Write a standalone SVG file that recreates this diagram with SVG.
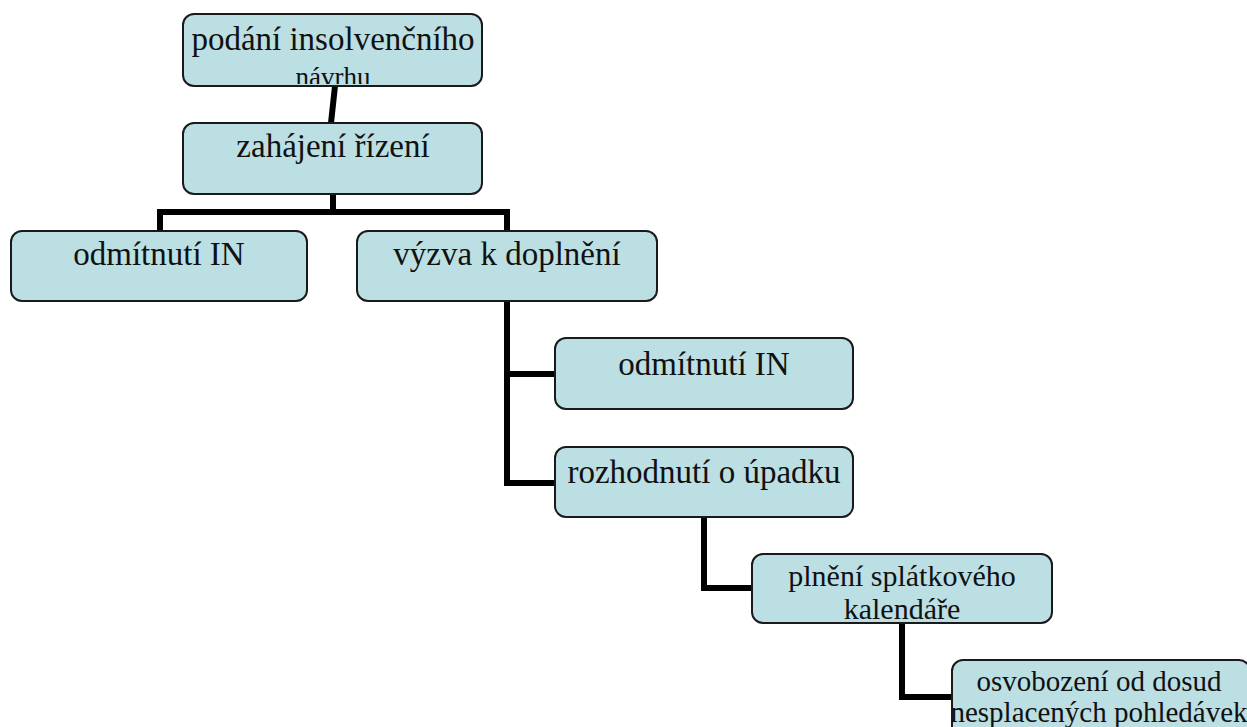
<svg xmlns="http://www.w3.org/2000/svg" width="1247" height="727" viewBox="0 0 1247 727">
  <style>
    .box { fill: #BBDFE3; stroke: #1a1a1a; stroke-width: 2; }
    .lbl { font-family: "Liberation Serif", "Times New Roman", serif; fill: #111; text-anchor: middle; }
    .big { font-size: 33px; }
    .mid { font-size: 30px; }
    .sm { font-size: 29px; }
    .tiny { font-size: 27px; }
    .link { fill: none; stroke: #000; stroke-width: 6; stroke-linejoin: miter; stroke-linecap: butt; }
  </style>
  <defs>
    <clipPath id="clip-podani">
      <rect x="184" y="15" width="297" height="69" rx="10"/>
    </clipPath>
  </defs>
  <rect width="1247" height="727" fill="#fff"/>

  <g id="connectors">
    <path class="link" d="M335,86 L331,123"/>
    <path class="link" d="M333,194 V212 M160,231 V212 H507 V231"/>
    <path class="link" d="M507,300 V483 H555 M507,374 H555"/>
    <path class="link" d="M704,517 V588 H752"/>
    <path class="link" d="M902,623 V697 H952"/>
  </g>

  <g id="n-podani">
    <rect class="box" x="183" y="14" width="299" height="72" rx="11"/>
    <g clip-path="url(#clip-podani)">
      <text class="lbl big" x="333" y="50">podání insolvenčního</text>
      <text class="lbl tiny" x="333" y="86">návrhu</text>
    </g>
  </g>

  <g id="n-zahajeni">
    <rect class="box" x="183" y="123" width="299" height="71" rx="11"/>
    <text class="lbl big" x="333" y="157">zahájení řízení</text>
  </g>

  <g id="n-odmitnuti-1">
    <rect class="box" x="11" y="231" width="296" height="70" rx="11"/>
    <text class="lbl big" x="159" y="265">odmítnutí IN</text>
  </g>

  <g id="n-vyzva">
    <rect class="box" x="357" y="231" width="300" height="70" rx="11"/>
    <text class="lbl big" x="507" y="265">výzva k doplnění</text>
  </g>

  <g id="n-odmitnuti-2">
    <rect class="box" x="555" y="338" width="298" height="71" rx="11"/>
    <text class="lbl big" x="704" y="375">odmítnutí IN</text>
  </g>

  <g id="n-rozhodnuti">
    <rect class="box" x="555" y="447" width="298" height="70" rx="11"/>
    <text class="lbl big" x="704" y="483">rozhodnutí o úpadku</text>
  </g>

  <g id="n-plneni">
    <rect class="box" x="752" y="554" width="300" height="69" rx="11"/>
    <text class="lbl mid" x="902" y="586">plnění splátkového</text>
    <text class="lbl mid" x="902" y="619">kalendáře</text>
  </g>

  <g id="n-osvobozeni">
    <rect class="box" x="952" y="660" width="298" height="80" rx="11"/>
    <text class="lbl sm" x="1099" y="691">osvobození od dosud</text>
    <text class="lbl sm" x="1099" y="722">nesplacených pohledávek</text>
  </g>
</svg>
